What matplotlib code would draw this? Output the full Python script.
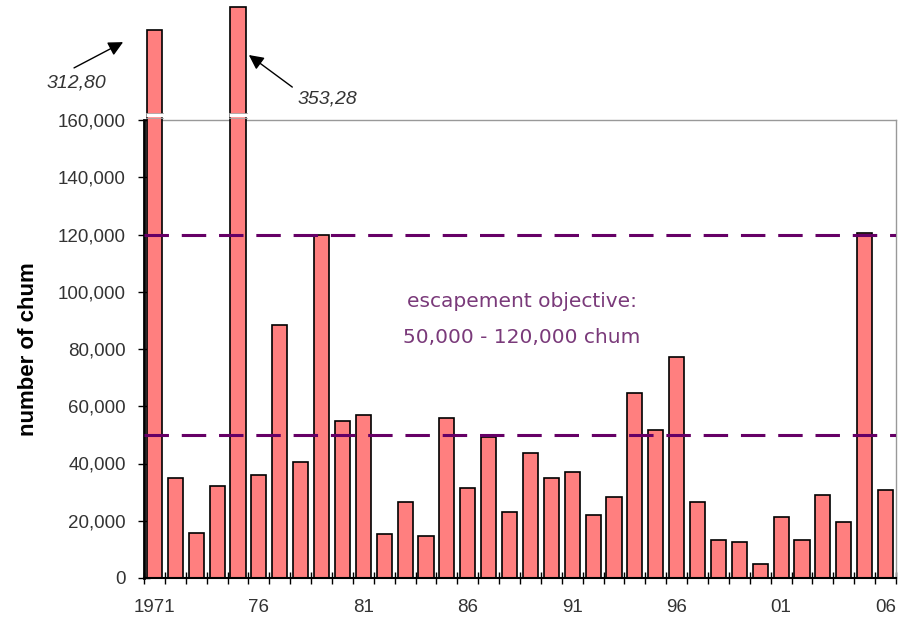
import matplotlib
matplotlib.use("Agg")
import matplotlib.pyplot as plt
import numpy as np

# Chum escapement by year (1971-2006)
years = list(range(1971, 2007))
chum = [
    312800, 35000, 15600, 32100, 353280, 36000, 88400, 40600, 119800, 54800,
    56900, 15400, 26700, 14800, 56000, 31500, 49400, 23200, 43500, 34800,
    37100, 22000, 28400, 64700, 51700, 77100, 26700, 13300, 12700, 4900,
    21200, 13300, 29000, 19500, 120600, 30700,
]
year_labels = ["1971", "76", "81", "86", "91", "96", "01", "06"]
objective_low = 50000
objective_high = 120000

# the axis is broken at 160,000; anything above gets squeezed
BREAK = 160000
SQUEEZE = 0.205
shown = [v if v <= BREAK else BREAK + (v - BREAK) * SQUEEZE for v in chum]

plt.rcParams["font.family"] = ["Liberation Sans", "DejaVu Sans"]

fig = plt.figure(figsize=(8.98, 6.23), dpi=100)
ax = fig.add_axes([144 / 898, 45 / 623, 752 / 898, 458 / 623])

x = np.arange(len(years))
bars = ax.bar(x, shown, width=0.72, color="#ff7f7f", edgecolor="black",
              linewidth=1.2, zorder=2)
for b in bars:
    b.set_clip_on(False)

# break marks on the tall bars
for i, v in enumerate(chum):
    if v > BREAK:
        ax.plot([i - 0.42, i + 0.42], [161600, 161600], color="white", lw=2.5,
                clip_on=False, zorder=4, solid_capstyle="butt")
        ax.plot([i - 0.42, i + 0.42], [160700, 160700], color="#aaaaaa", lw=0.6,
                clip_on=False, zorder=4)
        ax.plot([i - 0.42, i + 0.42], [162600, 162600], color="#aaaaaa", lw=0.6,
                clip_on=False, zorder=4)

# escapement objective lines
for level in (objective_low, objective_high):
    ax.axhline(level, color="#660066", lw=2.2, dashes=(8, 4.2), zorder=3)

ax.text(17.6, 96500, "escapement objective:", color="#7a3a7a", fontsize=14.5,
        ha="center", va="center", family="DejaVu Sans")
ax.text(17.6, 84000, "50,000 - 120,000 chum", color="#7a3a7a", fontsize=14.5,
        ha="center", va="center", family="DejaVu Sans")

# labels for the off-scale bars
arrow = dict(arrowstyle="-|>", color="black", lw=1, mutation_scale=22,
             shrinkA=0, shrinkB=0)
ax.annotate("", xy=(-1.5, 187200), xytext=(-3.85, 178200),
            annotation_clip=False, arrowprops=arrow)
ax.text(-3.75, 172900, "312,80", ha="center", va="center", fontsize=14,
        style="italic", color="#333333", clip_on=False)
ax.annotate("", xy=(4.52, 182700), xytext=(6.6, 171500),
            annotation_clip=False, arrowprops=arrow)
ax.text(8.26, 167300, "353,28", ha="center", va="center", fontsize=14,
        style="italic", color="#333333", clip_on=False)

ax.set_xlim(-0.5, len(years) - 0.5)
ax.set_ylim(0, BREAK)
ax.set_yticks(np.arange(0, 160001, 20000))
ax.set_yticklabels([f"{t:,}" for t in range(0, 160001, 20000)])
ax.set_xticks(x[::5])
ax.set_xticklabels(year_labels)
ax.set_xticks(np.arange(-0.5, len(years)), minor=True)

ax.tick_params(axis="y", direction="inout", length=8, width=1, pad=9,
               labelsize=13.5, labelcolor="#333333")
ax.tick_params(axis="x", which="major", length=0, pad=15,
               labelsize=13.5, labelcolor="#333333")
ax.tick_params(axis="x", which="minor", direction="inout", length=8, width=1)

ax.set_ylabel("number of chum", fontsize=16, fontweight="bold", labelpad=14)

ax.spines["left"].set_linewidth(2)
ax.spines["bottom"].set_linewidth(1.5)
for s in ("top", "right"):
    ax.spines[s].set_color("#999999")
    ax.spines[s].set_linewidth(1)
ax.spines["top"].set_zorder(1)

fig.savefig("out.png", dpi=100)
